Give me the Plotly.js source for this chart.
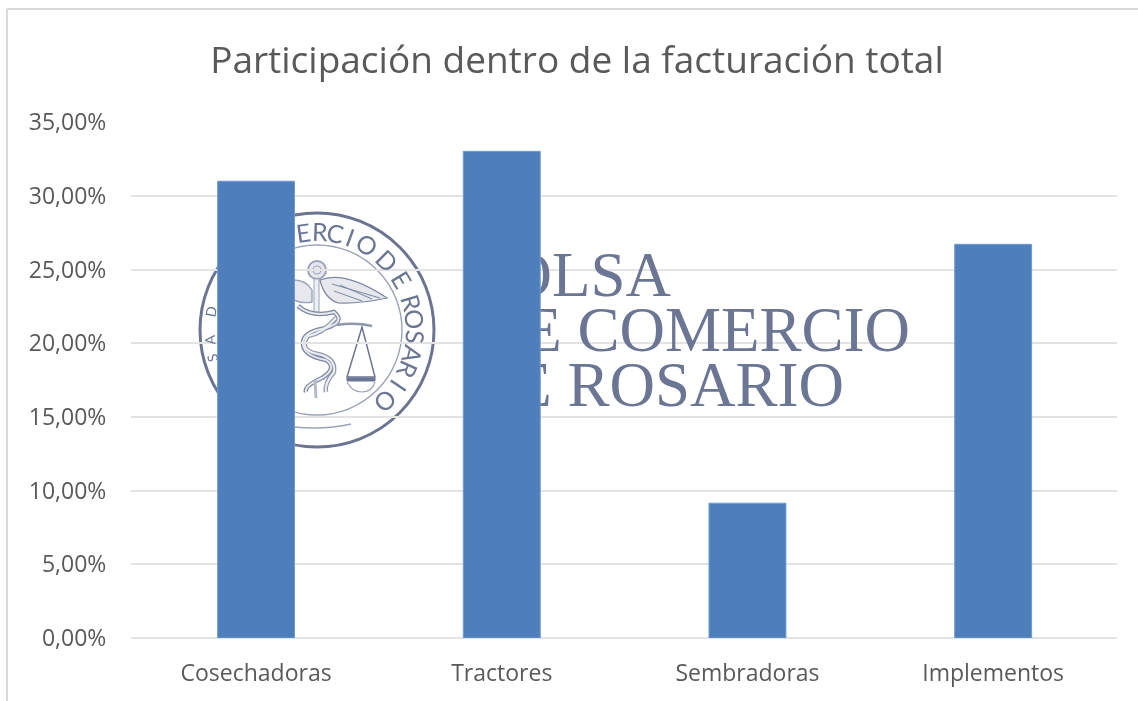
<!DOCTYPE html>
<html>
<head>
<meta charset="utf-8">
<script src="https://cdn.plot.ly/plotly-3.0.1.min.js"></script>
<style>html,body{margin:0;padding:0;background:#fff}#chart{width:1138px;height:701px;filter:blur(0.5px)}</style>
</head>
<body>
<div id="chart"></div>
<script>
const categories = ["Cosechadoras", "Tractores", "Sembradoras", "Implementos"];
const shares = [31.0, 33.03, 9.15, 26.72];
const titleText = "Participación dentro de la facturación total";

const wmLines = ["BOLSA", "DE COMERCIO", "DE ROSARIO"];
const wmLineX = [671, 910, 844];
const wmLineY = [280, 335, 390];
const ringLetters = ["S","A","D","E","R","C","I","O","D","E","R","O","S","A","R","I","O"];
const ringAngles = [-105,-95,-80,-8,2,11,20,30,45,59,74,84,94,104,114,124,136];

const ink = "#6b7694";
const soft = "#9aa3b8";
const cx = 317, cy = 330;
function circle(r, w, color){
  return {type:"circle", xref:"x", yref:"y", x0:cx-r, x1:cx+r, y0:cy-r, y1:cy+r,
          line:{color:color||ink, width:w}, layer:"below"};
}
function path(d, w, color, fill){
  return {type:"path", xref:"x", yref:"y", path:d, layer:"below",
          line:{color:color||ink, width:w}, fillcolor:fill||"rgba(0,0,0,0)"};
}
const snakeA = "M 298 306 Q 312 318 334 312 Q 346 322 326 328 Q 302 332 303 344 Q 304 356 326 360 Q 338 368 322 378 Q 304 386 306 392";
const snakeB = "M 336 318 Q 322 334 308 336 Q 298 350 318 354 Q 336 358 334 372 Q 324 384 326 392";
const emblem = [
  circle(117, 3, "#6b7592"), circle(85, 1.4, soft),
  path("M 294 427 Q 325 430 351 424", 1.4, soft),
  {type:"circle", xref:"x", yref:"y", x0:308, x1:326, y0:261, y1:279, line:{color:soft, width:2}, fillcolor:"#e6e8ee", layer:"below"},
  {type:"circle", xref:"x", yref:"y", x0:313, x1:321, y0:266, y1:274, line:{color:soft, width:1.2}, layer:"below"},
  path("M 314 279 L 314 313 L 319 313 L 319 279 Z", 1, soft, "#eef0f4"),
  path("M 320 280 Q 345 270 387 298 Q 360 304 338 303 Q 324 298 320 280 Z", 1.2, "#7d87a1", "#e6e8ee"),
  path("M 332 284 L 380 298 M 340 285 L 372 299 M 334 291 L 362 301", 1, "#7d87a1"),
  path("M 294 280 Q 306 280 312 290 L 312 302 Q 302 304 294 300", 1.4, soft, "#e6e8ee"),
  path(snakeA, 4.5, "#7d87a1"), path(snakeB, 4.5, "#8e97ae"),
  path(snakeA, 2, "#e6e8ee"), path(snakeB, 2, "#eef0f4"),
  path("M 315 380 L 316 398", 3, "#b4bac9"),
  path("M 337 325 Q 355 322 372 326", 2.4, "#8e97ae"),
  path("M 362 327 L 347 377 L 375 377 Z", 1.5),
  path("M 347 378 L 375 378 L 375 381 L 347 381 Z", 1, ink, ink),
  path("M 347 382 Q 352 392 362 392 Q 372 392 375 382", 1.2, soft)
];

const ringAnnotations = ringLetters.map((ch, i) => {
  const a = ringAngles[i] * Math.PI / 180;
  const r = i < 3 ? 108 : 99;
  return {xref:"x", yref:"y", x:cx + r*Math.sin(a), y:cy - r*Math.cos(a), text:ch,
          showarrow:false, textangle:ringAngles[i],
          font:{family:"Lato, 'Open Sans', sans-serif", size:i < 3 ? 14 : 25, color:ink}};
});

const watermark = {
  type:"scatter", mode:"text", x:wmLineX, y:wmLineY, text:wmLines, xaxis:"x", yaxis:"y",
  textposition:"middle left", cliponaxis:false, hoverinfo:"skip", showlegend:false,
  textfont:{family:"'Liberation Serif', serif", size:63, color:ink}
};
const bars = {
  type:"bar", x:categories, y:shares, xaxis:"x2", yaxis:"y2", width:0.313,
  marker:{color:"#4e7fbb", line:{color:"#6f9bd1", width:1}}, showlegend:false
};
const tickFont = {family:"'Open Sans', sans-serif", size:23, color:"#595959"};
const layout = {
  width:1138, height:701, paper_bgcolor:"#fff", plot_bgcolor:"#fff",
  margin:{l:131, r:21, t:122, b:63}, separators:", ", showlegend:false,
  title:{text:titleText, x:0.507, xanchor:"center", y:0.914, yanchor:"middle",
         font:{family:"'Open Sans', sans-serif", size:37, color:"#595959"}},
  xaxis:{range:[131,1117], visible:false, fixedrange:true},
  yaxis:{range:[638,122], visible:false, fixedrange:true},
  xaxis2:{overlaying:"x", anchor:"y2", type:"category", range:[-0.509,3.504], showgrid:false, showline:false,
          ticks:"outside", ticklen:14, tickcolor:"rgba(0,0,0,0)", tickfont:tickFont, automargin:false, zeroline:false},
  yaxis2:{overlaying:"y", anchor:"x2", range:[0,35.02], dtick:5, tickformat:".2f", ticksuffix:"%",
          tickfont:tickFont, gridcolor:"#e3e3e3", gridwidth:2, zeroline:true, zerolinecolor:"#e3e3e3",
          zerolinewidth:2, showline:false, ticks:"outside", ticklen:19, tickcolor:"rgba(0,0,0,0)", automargin:false},
  shapes:[
    ...emblem,
    {type:"line", xref:"paper", yref:"paper", x0:-0.1258, x1:-0.1258, y0:-0.122, y1:1.219, line:{color:"#d9d9d9", width:2}},
    {type:"line", xref:"paper", yref:"paper", x0:-0.1258, x1:1.0213, y0:1.219, y1:1.219, line:{color:"#d9d9d9", width:2}}
  ],
  annotations:ringAnnotations
};
Plotly.newPlot("chart", [watermark, bars], layout, {displayModeBar:false, staticPlot:true});
</script>
</body>
</html>
